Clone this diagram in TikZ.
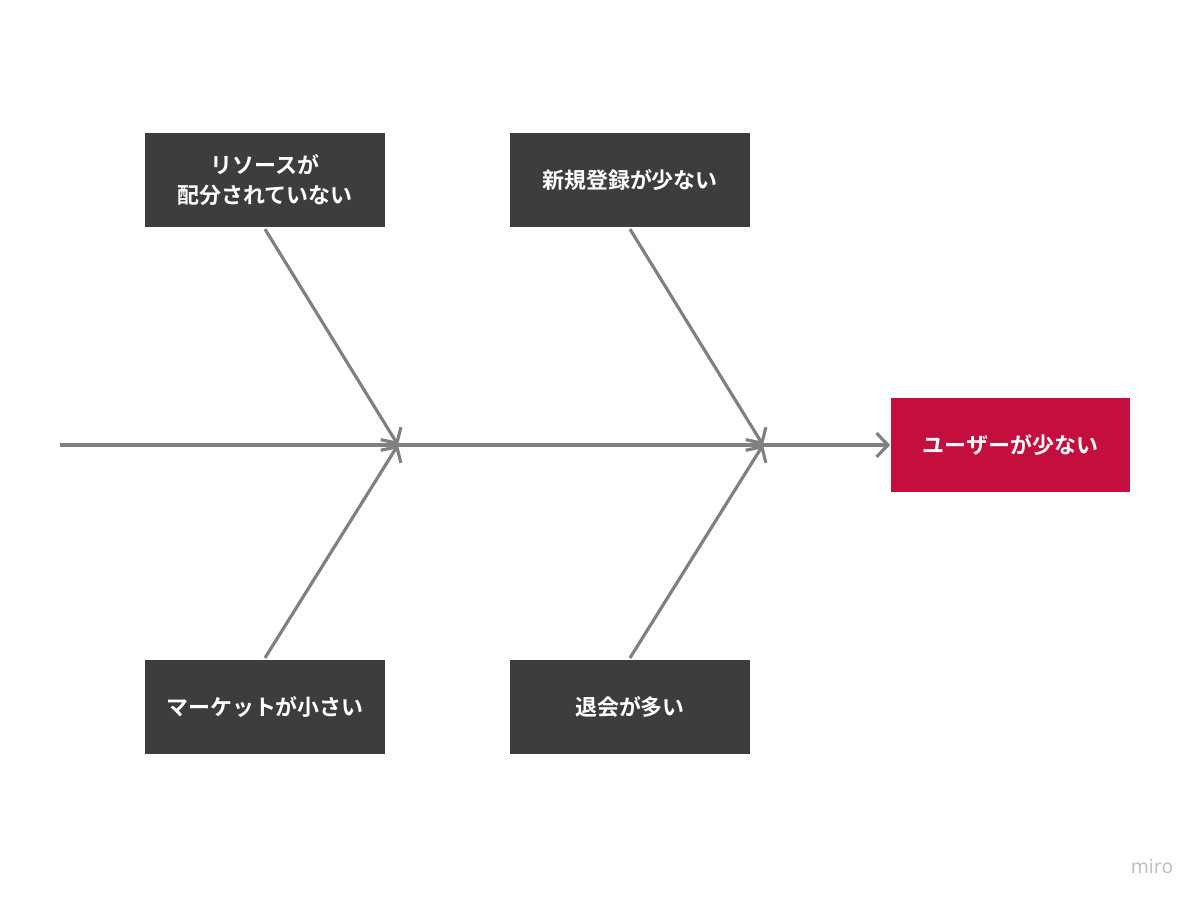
\documentclass[tikz,border=0pt]{standalone}
\usepackage{fontspec}
\setmainfont{Noto Sans CJK JP}[BoldFont={Noto Sans CJK JP Bold}]
\newfontfamily\wmfont{Noto Sans}
\usetikzlibrary{arrows.meta,positioning}
\definecolor{boxgray}{HTML}{3D3D3D}
\definecolor{effectred}{HTML}{C40E3D}
\definecolor{bonegray}{HTML}{808080}
\begin{document}
\begin{tikzpicture}[x=0.02cm,y=-0.02cm,every node/.style={font=\fontsize{12.5}{17}\selectfont\bfseries}]
  \tikzset{
    cause/.style={rectangle,fill=boxgray,text=white,minimum width=4.8cm,minimum height=1.88cm,align=center,inner sep=0pt},
    effect/.style={cause,fill=effectred},
    bone/.style={draw=bonegray,line width=1.8pt,-{Straight Barb[length=6.5pt,width=13.5pt]}}
  }
  \fill[white] (0,0) rectangle (1200,900);
  \useasboundingbox (0,0) rectangle (1200,900);
  % causes
  \node[cause] (res) at (265,180) {リソースが\\配分されていない};
  \node[cause] (reg) at (630,180) {新規登録が少ない};
  \node[cause] (mkt) at (265,707) {マーケットが小さい};
  \node[cause] (chn) at (630,707) {退会が多い};
  \node[effect] (usr) at (1010.5,445) {ユーザーが少ない};
  % spine
  \coordinate (tail) at (60,445);
  \coordinate (j1) at (398,445);
  \coordinate (j2) at (763,445);
  \draw[bone] (tail) -- (usr.west);
  \foreach \u/\v in {res/j1,reg/j2}
    \draw[bone] ([yshift=-1pt]\u.south) -- (\v);
  \foreach \u/\v in {mkt/j1,chn/j2}
    \draw[bone] ([yshift=1pt]\u.north) -- (\v);
  \node[font=\wmfont\fontsize{11}{13}\selectfont,text=black!25] (wm) at (1152,866) {miro};
\end{tikzpicture}
\end{document}
